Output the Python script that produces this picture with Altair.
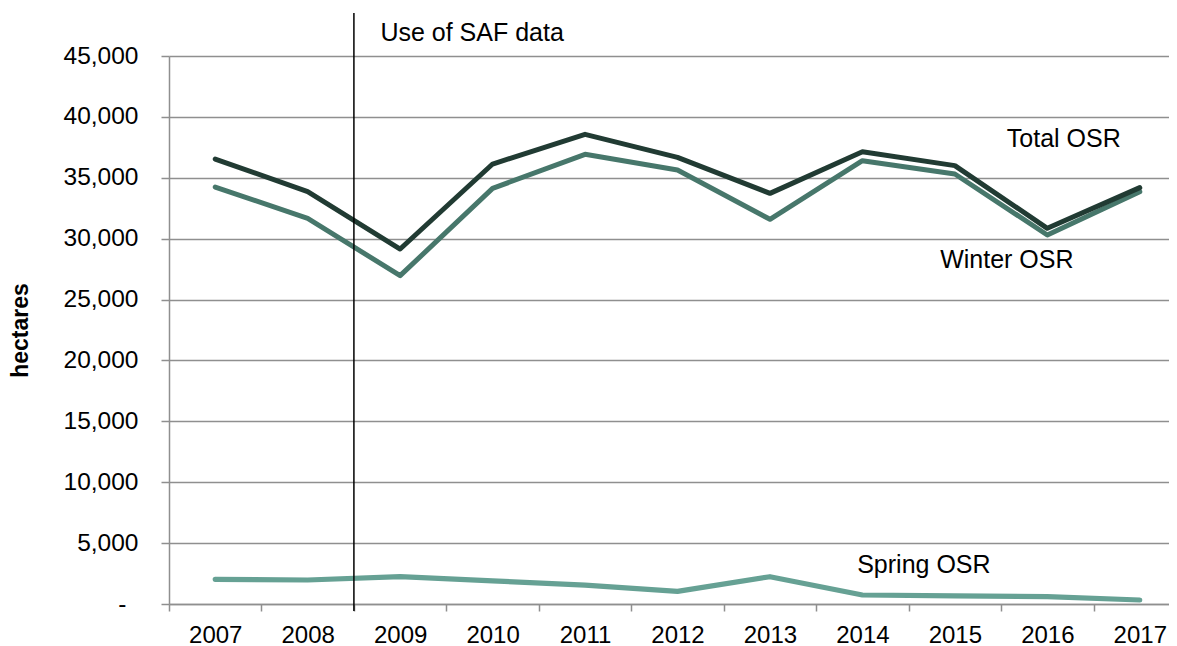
import altair as alt
import pandas as pd

years = [str(y) for y in range(2007, 2018)]
total = [36540, 33860, 29150, 36130, 38570, 36680, 33720, 37140, 36000, 30850, 34190]
winter = [34240, 31670, 26960, 34130, 36925, 35640, 31590, 36400, 35310, 30300, 33860]
spring = [2030, 1970, 2240, 1900, 1550, 1040, 2240, 740, 660, 600, 330]

label_names = ["Total OSR", "Winter OSR", "Spring OSR", "Use of SAF data"]
label_years = ["2016", "2016", "2015", "2009"]
label_values = [38200, 28250, 3200, 46900]

saf_year = ["2009"]
y_ticks = list(range(0, 45001, 5000))

FONT = "Liberation Sans"
GRID = "#8f8f8f"

df = pd.DataFrame({"year": years, "Total OSR": total, "Winter OSR": winter, "Spring OSR": spring})

xscale = alt.Scale(type="band", domain=years, range=[0, 1017], paddingInner=0, paddingOuter=0)
yscale = alt.Scale(domain=[0, 45000], nice=False, zero=True)

xaxis = alt.Axis(title=None, labelAngle=0, tickBand="extent", domainColor=GRID, tickColor=GRID,
                 domainWidth=1.5, tickWidth=1.5, tickSize=7, labelPadding=12, labelFontSize=24,
                 labelColor="black", labelFont=FONT, grid=False)
yaxis = alt.Axis(values=y_ticks, labelExpr="datum.value == 0 ? '-' : format(datum.value, ',')",
                 grid=True, gridColor=GRID, gridWidth=1.5, domainColor=GRID, domainWidth=1.5,
                 tickColor=GRID, tickWidth=1.5, tickSize=8,
                 labelPadding={"condition": {"test": "datum.value == 0", "value": 35}, "value": 23},
                 labelFontSize=24.5,
                 labelColor="black", labelFont=FONT, title="hectares", titleFont=FONT,
                 titleFontSize=23, titleFontWeight="bold", titleColor="black",
                 titleX=-149, titleY=274, titleAngle=270, titleBaseline="middle", titleAlign="center")

base = alt.Chart(df)

def line(field, color, width):
    return base.mark_line(color=color, strokeWidth=width, strokeCap="round", strokeJoin="round").encode(
        x=alt.X("year:N", scale=xscale, axis=xaxis, bandPosition=0.5),
        y=alt.Y(f"{field}:Q", scale=yscale, axis=yaxis),
    )

spring_line = line("Spring OSR", "#66a194", 5.2)
winter_line = line("Winter OSR", "#47776b", 5)
total_line = line("Total OSR", "#213b33", 5)

rule = alt.Chart(pd.DataFrame({"year": saf_year})).mark_rule(color="black", strokeWidth=1.5).encode(
    x=alt.X("year:N", bandPosition=0, scale=xscale, axis=xaxis),
    y=alt.value(-43),
    y2=alt.value(555),
)

labels_df = pd.DataFrame({"label": label_names, "year": label_years, "value": label_values})
dxs = [16.5, -40.5, -31, 72]
texts = []
for name, dx in zip(label_names, dxs):
    texts.append(
        alt.Chart(labels_df).transform_filter(alt.datum.label == name).mark_text(
            font=FONT, fontSize=25, color="black", dx=dx, align="center", baseline="middle"
        ).encode(
            x=alt.X("year:N", bandPosition=0.5, scale=xscale, axis=xaxis),
            y=alt.Y("value:Q", scale=yscale, axis=yaxis),
            text="label:N",
        )
    )

chart = alt.layer(spring_line, winter_line, total_line, rule, *texts).properties(
    width=1000, height=548,
    autosize=alt.AutoSizeParams(type="none"),
    padding={"left": 161, "top": 48, "right": 0, "bottom": 42},
    background="white",
).configure_view(stroke=None)

chart.save("out.html", embed_options={"renderer": "svg", "actions": False})
